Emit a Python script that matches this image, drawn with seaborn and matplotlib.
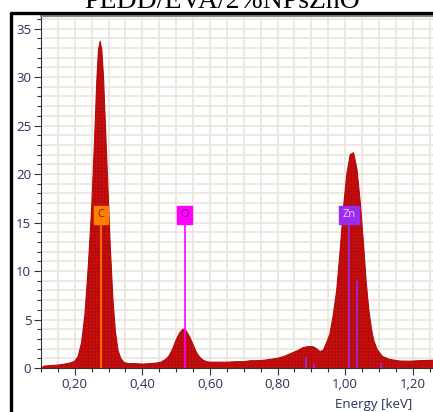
# Spektrum EDX PEDD/EVA/2%NPsZnO

import matplotlib
matplotlib.use('Agg')
import matplotlib.pyplot as plt
import matplotlib.ticker as mticker
from matplotlib.lines import Line2D
import seaborn as sns

# Data spektrum
energy_kev = [0.100, 0.105, 0.110, 0.130, 0.150, 0.170, 0.190, 0.200, 0.210, 0.220,
              0.230, 0.240, 0.250, 0.258, 0.265, 0.270, 0.275, 0.280, 0.285, 0.290,
              0.297, 0.305, 0.313, 0.320, 0.328, 0.336, 0.346, 0.360, 0.380, 0.400,
              0.420, 0.440, 0.455, 0.470, 0.480, 0.490, 0.500, 0.510, 0.520, 0.525,
              0.530, 0.540, 0.550, 0.560, 0.570, 0.580, 0.590, 0.600, 0.620, 0.650,
              0.680, 0.700, 0.720, 0.740, 0.760, 0.780, 0.800, 0.820, 0.840, 0.860,
              0.875, 0.890, 0.905, 0.915, 0.925, 0.935, 0.945, 0.955, 0.965, 0.975,
              0.985, 0.995, 1.005, 1.015, 1.025, 1.035, 1.045, 1.055, 1.062, 1.070,
              1.078, 1.085, 1.095, 1.110, 1.130, 1.160, 1.190, 1.220, 1.260]
counts = [0.0, 0.1, 0.2, 0.25, 0.3, 0.4, 0.55, 0.7, 1.2, 2.6,
          5.5, 10.5, 16.5, 23.0, 29.5, 32.8, 33.7, 32.8, 30.0, 25.5,
          19.5, 12.5, 7.0, 3.8, 1.8, 1.0, 0.55, 0.45, 0.45, 0.4,
          0.45, 0.5, 0.6, 0.9, 1.3, 2.0, 2.9, 3.6, 4.0, 4.0,
          3.8, 3.2, 2.4, 1.6, 1.1, 0.8, 0.65, 0.6, 0.6, 0.6,
          0.65, 0.65, 0.75, 0.75, 0.8, 0.9, 1.0, 1.2, 1.5, 1.8,
          2.1, 2.2, 2.2, 2.0, 1.7, 1.8, 2.6, 3.5, 5.5, 8.0,
          12.0, 16.5, 20.0, 22.0, 22.2, 20.5, 17.0, 12.5, 9.0, 6.0,
          4.0, 2.8, 1.9, 1.2, 0.9, 0.72, 0.7, 0.75, 0.8]

# Garis unsur
element_labels = ['C', 'O', 'Zn']
element_kev = [0.277, 0.525, 1.012]
label_height = [15.8, 15.8, 15.8]
element_colors = ['#ff8000', '#ff00ff', '#9a2cf0']
label_text_colors = ['#6a3000', '#7a0080', '#e6d2ff']

# Garis kecil Zn (L-lines lain)
zn_minor_kev = [0.884, 0.907, 1.034, 1.107]
zn_minor_height = [1.1, 0.4, 9.0, 0.5]

sns.set_style('white')
plt.rcParams['font.family'] = ['Open Sans', 'DejaVu Sans']
plt.rcParams['hatch.linewidth'] = 0.4

fig = plt.figure(figsize=(4.33, 4.12), dpi=100)
ax = fig.add_axes([41 / 433, 1 - 368 / 412, 1 - 41 / 433, (368 - 16) / 412])

# Grid
ax.set_axisbelow(True)
ax.grid(which='both', color='#ece7de', linewidth=1.3)

sns.lineplot(x=energy_kev, y=counts, ax=ax, color='#b30a0a', linewidth=0.8)
ax.fill_between(energy_kev, counts, 0, facecolor='#c70f0f', edgecolor='#ad0808',
                hatch='+++++', linewidth=0)

# Penanda unsur
for lab, e, h, col, tcol in zip(element_labels, element_kev, label_height,
                                element_colors, label_text_colors):
    ax.vlines(e, 0, h, color=col, linewidth=1.2, zorder=3)
    ax.text(e, h, lab, color=tcol, fontsize=8, ha='center', va='center', zorder=4,
            bbox=dict(boxstyle='square,pad=0.3', facecolor=col, edgecolor=col))
ax.vlines(zn_minor_kev, 0, zn_minor_height, color='#9a2cf0', linewidth=1.2, zorder=3)

ax.set_xlim(0.1, 1.26)
ax.set_ylim(0, 36.3)
ax.xaxis.set_major_locator(mticker.MultipleLocator(0.2))
ax.xaxis.set_minor_locator(mticker.MultipleLocator(0.05))
ax.yaxis.set_major_locator(mticker.MultipleLocator(5))
ax.yaxis.set_minor_locator(mticker.MultipleLocator(1))
ax.xaxis.set_major_formatter(mticker.FuncFormatter(lambda v, p: f'{v:.2f}'.replace('.', ',')))

ax.tick_params(axis='both', which='major', direction='out', length=5, width=0.8,
               color='#333333', labelsize=9.5, labelcolor='#25305a', pad=2,
               bottom=True, left=True)
ax.tick_params(axis='both', which='minor', direction='out', length=3, width=0.8,
               color='#333333', bottom=True, left=True)
ax.set_xlabel('Energy [keV]', fontsize=9.5, color='#25305a')
ax.xaxis.set_label_coords(333 / 392, -0.085)

ax.spines['right'].set_visible(False)
ax.spines['left'].set_color('#333333')
ax.spines['bottom'].set_color('#333333')
ax.spines['top'].set_color('#888888')
ax.spines['top'].set_linewidth(1.5)

# Bingkai hitam dan judul (terpotong di atas seperti aslinya)
fig.add_artist(Line2D([11 / 433, 11 / 433], [0, 1 - 13 / 412], color='black', linewidth=2.4))
fig.add_artist(Line2D([11 / 433, 1], [1 - 13 / 412, 1 - 13 / 412], color='black', linewidth=2.4))
fig.text(222 / 433, 1 - 8 / 412, 'PEDD/EVA/2%NPsZnO', family='Liberation Serif',
         fontsize=20, ha='center', va='baseline', color='black')

plt.savefig('out.png', dpi=100)
plt.close()
